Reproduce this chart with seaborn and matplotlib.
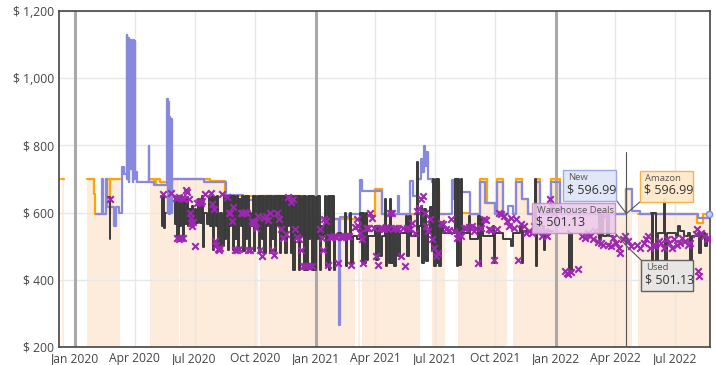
import matplotlib
matplotlib.use("Agg")
import matplotlib.pyplot as plt
import matplotlib.dates as mdates
from matplotlib.patches import Rectangle
from matplotlib.ticker import FuncFormatter
import numpy as np
import pandas as pd
import seaborn as sns

# ---- price history, None = not available ----
amazon = [
    ("2019-12-08", 700), ("2019-12-10", None), ("2019-12-13", 700), ("2019-12-15", None),
    ("2020-01-19", 700), ("2020-01-30", 655), ("2020-02-01", 597), ("2020-02-17", 700),
    ("2020-02-23", 597), ("2020-02-24", 700), ("2020-03-09", None),
    ("2020-04-25", 700), ("2020-04-30", 688), ("2020-05-03", 700), ("2020-05-09", 690),
    ("2020-05-28", 700), ("2020-06-07", None), ("2020-06-09", 700), ("2020-07-24", 693),
    ("2020-08-16", 650), ("2020-10-06", None), ("2020-10-08", 650), ("2020-12-12", 582),
    ("2021-03-02", None), ("2021-03-06", 582), ("2021-03-09", None), ("2021-03-12", 590),
    ("2021-04-01", 670), ("2021-04-11", 595), ("2021-06-08", None), ("2021-06-26", 690),
    ("2021-07-08", 597), ("2021-07-16", None), ("2021-08-05", 600), ("2021-08-23", 597),
    ("2021-09-08", 700), ("2021-09-18", 630), ("2021-09-30", 597), ("2021-10-03", 700),
    ("2021-10-12", 597), ("2021-10-18", None), ("2021-10-27", 597), ("2021-11-02", 700),
    ("2021-11-11", 640), ("2021-11-20", 597), ("2021-12-01", 700), ("2021-12-07", 597),
    ("2021-12-25", 700), ("2022-01-07", 597), ("2022-04-18", 670), ("2022-04-27", None),
    ("2022-05-05", 597), ("2022-08-03", 570), ("2022-08-12", 597), ("2022-08-23", 597),
]

new = [
    ("2020-02-02", 597), ("2020-02-11", 700), ("2020-02-13", 597), ("2020-02-17", 700),
    ("2020-02-19", 618), ("2020-03-01", 560), ("2020-03-03", 618), ("2020-03-08", 600),
    ("2020-03-12", 735), ("2020-03-15", 715),
    ("2020-03-20", 1130), ("2020-03-21", 700), ("2020-03-22", 1120), ("2020-03-23", 690),
    ("2020-03-24", 1110), ("2020-03-25", 760), ("2020-03-26", 1115), ("2020-03-27", 730),
    ("2020-03-28", 1100), ("2020-03-29", 690), ("2020-03-30", 1115), ("2020-03-31", 700),
    ("2020-04-01", 1110), ("2020-04-02", 720), ("2020-04-05", 690), ("2020-04-22", 797),
    ("2020-04-23", 690), ("2020-05-01", 682),
    ("2020-05-20", 937), ("2020-05-21", 600), ("2020-05-22", 930), ("2020-05-23", 595),
    ("2020-05-24", 885), ("2020-05-25", 600), ("2020-05-26", 880), ("2020-05-27", 598),
    ("2020-05-28", 700), ("2020-07-16", 692), ("2020-08-18", 652), ("2020-09-12", 638),
    ("2020-10-08", 598), ("2020-10-12", 650), ("2020-11-10", 625), ("2020-11-16", 650),
    ("2020-11-28", 600), ("2020-12-08", 582), ("2021-02-06", 265), ("2021-02-07", 587),
    ("2021-02-20", 597), ("2021-03-10", 698), ("2021-03-13", 663), ("2021-04-11", 595),
    ("2021-05-06", 648), ("2021-05-08", 597), ("2021-05-24", 693), ("2021-05-29", 650),
    ("2021-06-04", 700), ("2021-06-10", 760), ("2021-06-12", 720), ("2021-06-14", 797),
    ("2021-06-16", 740), ("2021-06-18", 780), ("2021-06-20", 700), ("2021-06-26", 690),
    ("2021-07-01", 660), ("2021-07-08", 597), ("2021-07-27", 698), ("2021-07-29", 640),
    ("2021-08-01", 700), ("2021-08-05", 660), ("2021-08-23", 597), ("2021-09-08", 690),
    ("2021-09-15", 630), ("2021-09-30", 597), ("2021-10-03", 690), ("2021-10-12", 597),
    ("2021-10-20", 620), ("2021-10-28", 597), ("2021-11-02", 690), ("2021-11-11", 640),
    ("2021-11-20", 597), ("2021-12-01", 690), ("2021-12-07", 597), ("2021-12-25", 690),
    ("2022-01-07", 597), ("2022-04-18", 670), ("2022-04-27", 605), ("2022-05-08", 597),
    ("2022-08-05", 585), ("2022-08-22", 597),
]

used = [
    ("2020-02-22", 645), ("2020-02-23", 520), ("2020-02-24", None),
    ("2020-04-04", 520), ("2020-04-05", None),
    ("2020-05-11", 650), ("2020-05-12", 560), ("2020-05-14", 645), ("2020-05-15", 555),
    ("2020-05-17", 600), ("2020-05-18", None),
    ("2020-05-30", 645), ("2020-06-01", 565), ("2020-06-03", 645), ("2020-06-05", 520),
    ("2020-06-07", 645), ("2020-06-09", 560), ("2020-06-11", 645), ("2020-06-13", 522),
    ("2020-06-15", 640), ("2020-06-17", 565), ("2020-06-19", 645), ("2020-06-21", 560),
    ("2020-06-23", 610), ("2020-06-25", 560), ("2020-06-27", 620), ("2020-06-29", 568),
    ("2020-07-01", 610), ("2020-07-03", 570), ("2020-07-06", 640), ("2020-07-09", 570),
    ("2020-07-12", 650), ("2020-07-14", 498), ("2020-07-16", 600), ("2020-07-20", 565),
    ("2020-07-23", 645), ("2020-07-25", 560), ("2020-07-27", 650), ("2020-07-29", 490),
    ("2020-07-31", 645), ("2020-08-02", 560), ("2020-08-04", 650), ("2020-08-06", 490),
    ("2020-08-08", 600), ("2020-08-11", 500), ("2020-08-14", 650), ("2020-08-16", 520),
    ("2020-08-18", 650), ("2020-08-20", 490), ("2020-08-22", 650), ("2020-08-24", 560),
    ("2020-08-26", 650), ("2020-08-28", 490), ("2020-08-30", 650), ("2020-09-01", 520),
    ("2020-09-03", 650), ("2020-09-05", 490), ("2020-09-07", 640), ("2020-09-09", 560),
    ("2020-09-11", 650), ("2020-09-13", 485), ("2020-09-15", 650), ("2020-09-17", 520),
    ("2020-09-19", 650), ("2020-09-21", 490), ("2020-09-23", 600), ("2020-09-25", 560),
    ("2020-09-27", 650), ("2020-09-29", 485), ("2020-10-01", 650), ("2020-10-03", 560),
    ("2020-10-05", 650), ("2020-10-07", 480), ("2020-10-09", 650), ("2020-10-11", 520),
    ("2020-10-13", 650), ("2020-10-15", 480), ("2020-10-17", 650), ("2020-10-19", 560),
    ("2020-10-21", 650), ("2020-10-23", 480), ("2020-10-25", 650), ("2020-10-27", 520),
    ("2020-10-29", 650), ("2020-10-31", 485), ("2020-11-02", 650), ("2020-11-04", 560),
    ("2020-11-06", 650), ("2020-11-08", 480), ("2020-11-10", 650), ("2020-11-12", 530),
    ("2020-11-14", 650), ("2020-11-16", 480), ("2020-11-18", 650), ("2020-11-20", 560),
    ("2020-11-22", 650), ("2020-11-24", 480), ("2020-11-26", 650), ("2020-11-28", 430),
    ("2020-11-30", 650), ("2020-12-02", 520), ("2020-12-04", 650), ("2020-12-06", 430),
    ("2020-12-08", 650), ("2020-12-10", 530), ("2020-12-12", 650), ("2020-12-14", 430),
    ("2020-12-16", 650), ("2020-12-18", 430), ("2020-12-20", 650), ("2020-12-22", 520),
    ("2020-12-24", 650), ("2020-12-26", 430), ("2020-12-28", 650), ("2020-12-30", 430),
    ("2021-01-01", 645), ("2021-01-03", 520), ("2021-01-05", 650), ("2021-01-07", 430),
    ("2021-01-09", 560), ("2021-01-12", 530), ("2021-01-15", 650), ("2021-01-17", 440),
    ("2021-01-19", 650), ("2021-01-21", 430), ("2021-01-23", 650), ("2021-01-25", 530),
    ("2021-01-27", 650), ("2021-01-29", 430), ("2021-01-31", 530), ("2021-02-04", 540),
    ("2021-02-08", 530), ("2021-02-14", 600), ("2021-02-16", 440), ("2021-02-18", 530),
    ("2021-02-22", 600), ("2021-02-24", 450), ("2021-02-26", 530), ("2021-03-04", 520),
    ("2021-03-10", 600), ("2021-03-12", 450), ("2021-03-14", 600), ("2021-03-16", 450),
    ("2021-03-18", 600), ("2021-03-20", 460), ("2021-03-22", 530), ("2021-04-01", 560),
    ("2021-04-03", 460), ("2021-04-06", 560), ("2021-04-08", 470), ("2021-04-11", 530),
    ("2021-04-16", 640), ("2021-04-18", 440), ("2021-04-20", 555), ("2021-04-22", 450),
    ("2021-04-24", 640), ("2021-04-26", 450), ("2021-04-28", 555), ("2021-04-30", 440),
    ("2021-05-03", 555), ("2021-05-06", 470), ("2021-05-09", 540), ("2021-05-18", 590),
    ("2021-05-20", 470), ("2021-05-23", 590), ("2021-05-26", 530), ("2021-06-04", 752),
    ("2021-06-05", 470), ("2021-06-07", 560), ("2021-06-10", 620), ("2021-06-12", 450),
    ("2021-06-15", 610), ("2021-06-17", 455), ("2021-06-20", 540), ("2021-06-24", 617),
    ("2021-06-26", 490), ("2021-06-28", 700), ("2021-06-30", 440), ("2021-07-02", 700),
    ("2021-07-04", 450), ("2021-07-06", 700), ("2021-07-08", 440), ("2021-07-10", 560),
    ("2021-07-14", 540), ("2021-08-01", 700), ("2021-08-03", 440), ("2021-08-05", 700),
    ("2021-08-07", 445), ("2021-08-09", 700), ("2021-08-11", 540), ("2021-08-22", 590),
    ("2021-08-24", 520), ("2021-09-05", 590), ("2021-09-07", 440), ("2021-09-09", 580),
    ("2021-09-12", 530), ("2021-09-27", 560), ("2021-09-29", 450), ("2021-10-01", 540),
    ("2021-10-12", 520), ("2021-10-24", 500), ("2021-10-28", 540), ("2021-11-08", 560),
    ("2021-11-10", 450), ("2021-11-12", 545), ("2021-11-24", 540), ("2021-11-30", 700),
    ("2021-12-01", 440), ("2021-12-03", 560), ("2021-12-12", 560), ("2021-12-14", 490),
    ("2021-12-16", 545), ("2021-12-28", None),
    ("2022-01-19", 545), ("2022-01-21", 430), ("2022-01-23", 540), ("2022-01-25", 430),
    ("2022-01-27", None),
    ("2022-03-06", 600), ("2022-03-08", 520), ("2022-03-10", 600), ("2022-03-13", 530),
    ("2022-03-20", 600), ("2022-03-22", 530), ("2022-03-28", None),
    ("2022-05-25", 600), ("2022-05-27", 450), ("2022-05-29", 600), ("2022-06-02", 460),
    ("2022-06-05", 540), ("2022-06-14", 640), ("2022-06-16", 460), ("2022-06-18", 540),
    ("2022-07-03", 530), ("2022-07-05", 560), ("2022-07-09", 545), ("2022-07-14", 530),
    ("2022-07-21", 540), ("2022-07-24", 460), ("2022-07-26", 530), ("2022-08-05", 540),
    ("2022-08-07", 480), ("2022-08-09", 530), ("2022-08-14", 540), ("2022-08-16", 500),
    ("2022-08-18", 525), ("2022-08-23", 525),
]

warehouse = [
    ("2020-02-23", 640), ("2020-05-14", 655), ("2020-05-26", 657),
    ("2020-06-02", 642), ("2020-06-04", 525), ("2020-06-05", 642), ("2020-06-07", 522),
    ("2020-06-08", 645), ("2020-06-10", 525), ("2020-06-12", 642), ("2020-06-14", 524),
    ("2020-06-15", 640), ("2020-06-18", 668), ("2020-06-19", 662), ("2020-06-22", 640),
    ("2020-06-24", 600), ("2020-06-25", 585), ("2020-06-26", 570), ("2020-06-27", 560),
    ("2020-06-29", 572), ("2020-07-02", 500), ("2020-07-04", 628), ("2020-07-07", 632),
    ("2020-07-10", 630), ("2020-07-13", 635), ("2020-07-17", 655), ("2020-07-26", 658),
    ("2020-07-28", 625), ("2020-07-30", 610), ("2020-08-01", 515), ("2020-08-03", 505),
    ("2020-08-05", 492), ("2020-08-07", 488), ("2020-08-09", 495), ("2020-08-11", 655),
    ("2020-08-19", 645), ("2020-08-22", 600), ("2020-08-24", 598), ("2020-08-27", 575),
    ("2020-08-29", 618), ("2020-08-31", 490), ("2020-09-03", 488), ("2020-09-06", 492),
    ("2020-09-09", 600), ("2020-09-12", 600), ("2020-09-15", 602), ("2020-09-18", 598),
    ("2020-09-20", 490), ("2020-09-23", 488), ("2020-09-26", 575), ("2020-09-28", 570),
    ("2020-10-01", 573), ("2020-10-03", 555), ("2020-10-05", 590), ("2020-10-08", 490),
    ("2020-10-11", 470), ("2020-10-14", 585), ("2020-10-17", 590), ("2020-10-20", 578),
    ("2020-10-24", 600), ("2020-10-27", 490), ("2020-10-30", 475), ("2020-11-03", 600),
    ("2020-11-06", 580), ("2020-11-10", 550), ("2020-11-13", 525), ("2020-11-17", 535),
    ("2020-11-20", 645), ("2020-11-24", 632), ("2020-11-27", 640), ("2020-11-30", 550),
    ("2020-12-03", 528), ("2020-12-06", 520), ("2020-12-10", 490), ("2020-12-13", 440),
    ("2020-12-16", 440), ("2020-12-19", 440), ("2020-12-22", 442), ("2020-12-26", 440),
    ("2021-01-08", 550), ("2021-01-10", 525), ("2021-01-12", 490), ("2021-01-14", 580),
    ("2021-01-17", 575), ("2021-01-20", 445), ("2021-01-23", 528), ("2021-01-26", 528),
    ("2021-01-29", 530), ("2021-02-01", 528), ("2021-02-04", 450), ("2021-02-08", 527),
    ("2021-02-11", 528), ("2021-02-14", 530), ("2021-02-17", 529), ("2021-02-20", 530),
    ("2021-02-24", 445), ("2021-03-01", 558), ("2021-03-04", 580), ("2021-03-06", 560),
    ("2021-03-09", 540), ("2021-03-12", 520), ("2021-03-14", 450), ("2021-03-18", 553),
    ("2021-03-21", 555), ("2021-03-24", 600), ("2021-03-27", 585), ("2021-03-30", 553),
    ("2021-04-02", 470), ("2021-04-05", 445), ("2021-04-08", 555), ("2021-04-12", 553),
    ("2021-04-15", 550), ("2021-04-18", 556), ("2021-04-21", 552), ("2021-04-24", 600),
    ("2021-04-27", 600), ("2021-04-30", 553), ("2021-05-03", 555), ("2021-05-06", 550),
    ("2021-05-10", 470), ("2021-05-13", 553), ("2021-05-17", 440), ("2021-05-20", 555),
    ("2021-05-24", 552), ("2021-05-28", 570), ("2021-06-01", 540), ("2021-06-04", 605),
    ("2021-06-07", 615), ("2021-06-10", 640), ("2021-06-13", 650), ("2021-06-16", 600),
    ("2021-06-18", 560), ("2021-06-21", 545), ("2021-06-24", 580), ("2021-06-27", 520),
    ("2021-06-30", 495), ("2021-07-03", 470), ("2021-07-06", 480), ("2021-07-10", 570),
    ("2021-07-14", 565), ("2021-07-18", 550), ("2021-07-22", 548), ("2021-07-26", 580),
    ("2021-07-30", 545), ("2021-08-03", 525), ("2021-08-06", 540), ("2021-08-10", 530),
    ("2021-08-14", 555), ("2021-08-18", 553), ("2021-08-22", 558), ("2021-08-26", 560),
    ("2021-08-30", 545), ("2021-09-02", 555), ("2021-09-05", 450), ("2021-09-09", 555),
    ("2021-09-13", 580), ("2021-09-17", 578), ("2021-09-21", 550), ("2021-09-25", 548),
    ("2021-09-29", 460), ("2021-10-03", 550), ("2021-10-07", 600), ("2021-10-10", 595),
    ("2021-10-14", 590), ("2021-10-18", 575), ("2021-10-21", 560), ("2021-10-25", 585),
    ("2021-10-29", 555), ("2021-11-02", 580), ("2021-11-05", 460), ("2021-11-09", 565),
    ("2021-11-13", 560), ("2021-11-17", 540), ("2021-11-21", 545), ("2021-11-25", 540),
    ("2021-11-29", 560), ("2021-12-03", 545), ("2021-12-07", 548), ("2021-12-11", 530),
    ("2021-12-15", 545), ("2021-12-19", 530), ("2021-12-23", 640), ("2021-12-26", 620),
    ("2021-12-29", 600),
    ("2022-01-14", 425), ("2022-01-17", 420), ("2022-01-20", 418), ("2022-01-24", 422),
    ("2022-02-04", 432), ("2022-02-10", 530), ("2022-02-14", 525), ("2022-02-18", 540),
    ("2022-02-22", 530), ("2022-02-26", 520), ("2022-03-02", 545), ("2022-03-06", 512),
    ("2022-03-10", 510), ("2022-03-14", 505), ("2022-03-17", 590), ("2022-03-21", 505),
    ("2022-03-25", 500), ("2022-03-29", 525), ("2022-04-02", 510), ("2022-04-06", 495),
    ("2022-04-09", 480), ("2022-04-13", 520), ("2022-04-16", 530), ("2022-04-20", 515),
    ("2022-04-25", 500), ("2022-05-04", 505), ("2022-05-08", 495), ("2022-05-14", 510),
    ("2022-05-18", 520), ("2022-05-21", 530), ("2022-05-24", 495), ("2022-05-28", 505),
    ("2022-06-01", 500), ("2022-06-06", 515), ("2022-06-10", 510), ("2022-06-14", 495),
    ("2022-06-18", 520), ("2022-06-22", 510), ("2022-06-26", 495), ("2022-06-30", 520),
    ("2022-07-04", 505), ("2022-07-08", 510), ("2022-07-12", 525), ("2022-07-16", 515),
    ("2022-07-20", 505), ("2022-07-24", 510), ("2022-08-01", 535), ("2022-08-03", 550),
    ("2022-08-05", 425), ("2022-08-07", 410), ("2022-08-09", 540), ("2022-08-14", 530),
    ("2022-08-18", 522), ("2022-08-21", 525),
]

# hover tooltip shown in the screenshot
hover_date = "2022-04-18"
hover_new, hover_amazon = 596.99, 596.99
hover_used, hover_warehouse = 501.13, 501.13
last_new = ("2022-08-22", 596.99)

year_marks = ["2020-01-01", "2021-01-01", "2022-01-01"]
x_range = ("2019-12-08", "2022-08-23")
y_range = (200, 1200)

C_AMAZON = "#ffa500"
C_FILL = "#fdebdb"
C_NEW = "#8888dd"
C_USED = "#3a3a3a"
C_WD = "#9c27b0"

W, H = 716, 365


def to_frame(rows):
    df = pd.DataFrame(rows, columns=["date", "price"])
    df["date"] = pd.to_datetime(df["date"])
    df["price"] = pd.to_numeric(df["price"], errors="coerce").astype(float)
    return df


sns.set_style("white")
plt.rcParams["font.family"] = ["Open Sans", "DejaVu Sans"]

fig = plt.figure(figsize=(W / 100, H / 100), dpi=100)
ax = fig.add_axes([59 / W, 18 / H, 651 / W, 336 / H])

amz_df = to_frame(amazon)
new_df = to_frame(new)
used_df = to_frame(used)
wd_df = to_frame(warehouse)

# amazon area: step polygon under the amazon price, broken where out of stock
xn = mdates.date2num(amz_df["date"])
yn = amz_df["price"].to_numpy()
xs = np.repeat(xn, 2)[1:]
ys = np.repeat(yn, 2)[:-1]
ax.fill_between(xs, ys, y_range[0], color=C_FILL, lw=0, zorder=0.3)

for d in year_marks:
    ax.axvline(pd.Timestamp(d), color="#a9a9a9", lw=2.2, zorder=0.7)

ax.plot(amz_df["date"], amz_df["price"], drawstyle="steps-post",
        color=C_AMAZON, lw=1.6, zorder=2)
sns.lineplot(data=new_df, x="date", y="price", drawstyle="steps-post",
             estimator=None, sort=False, color=C_NEW, lw=1.6, ax=ax, zorder=2.2)
ax.plot(used_df["date"], used_df["price"], drawstyle="steps-post",
        color=C_USED, lw=1.4, zorder=2.5)
sns.scatterplot(data=wd_df, x="date", y="price", marker="x", s=22,
                color=C_WD, linewidth=1.5, ax=ax, zorder=3)
ax.plot(pd.Timestamp(last_new[0]), last_new[1], "o", ms=4.5,
        mfc="#c5cbf3", mec=C_NEW, mew=1, zorder=3.5, clip_on=False)

# hover cursor
hx = pd.Timestamp(hover_date)
ax.plot([hx, hx], [y_range[0], 780], color="#555555", lw=0.8, zorder=3.2)

ax.set_xlim(pd.Timestamp(x_range[0]), pd.Timestamp(x_range[1]))
ax.set_ylim(*y_range)
ax.set_yticks(np.arange(200, 1201, 200))
ax.yaxis.set_major_formatter(FuncFormatter(lambda v, p: f"$ {v:,.0f}"))
ax.xaxis.set_major_locator(mdates.MonthLocator(bymonth=[1, 4, 7, 10]))
ax.xaxis.set_major_formatter(mdates.DateFormatter("%b %Y"))
ax.set_xlabel("")
ax.set_ylabel("")
ax.grid(True, color="#e8e8e8", lw=1)
ax.tick_params(length=0, labelsize=8.7, labelcolor="#444444", pad=3.5)
for s in ax.spines.values():
    s.set_color("#444444")
    s.set_linewidth(1.2)


def tooltip(box, label, value, face, edge, alpha):
    l, t, r, b = box
    fig.patches.append(Rectangle((l / W, 1 - b / H), (r - l) / W, (b - t) / H,
                                 transform=fig.transFigure, facecolor=face,
                                 edgecolor=edge, lw=1, alpha=alpha, zorder=5))
    fig.text((l + 5) / W, 1 - (t + 3) / H, label, ha="left", va="top",
             fontsize=6.8, color="#555555", zorder=6)
    fig.text((l + 4) / W, 1 - (t + 13) / H, value, ha="left", va="top",
             fontsize=9, color="#333333", zorder=6)


def connector(price, px, py):
    ax.annotate("", xy=(hx, price), xytext=(px, H - py),
                textcoords="figure pixels", zorder=4,
                arrowprops=dict(arrowstyle="-", color="#555555", lw=0.8,
                                shrinkA=0, shrinkB=0))


connector(hover_new, 616, 200)
connector(hover_amazon, 641, 201)
connector(hover_warehouse, 615, 233)
connector(hover_used, 641, 260)

tooltip((563, 170, 616, 201), "New", f"$ {hover_new:.2f}", "#e1e6f8", "#9aa3e2", 0.95)
tooltip((640, 171, 693, 202), "Amazon", f"$ {hover_amazon:.2f}", "#ffe9cc", "#f5b040", 0.95)
tooltip((532, 203, 615, 233), "Warehouse Deals", f"$ {hover_warehouse:.2f}", "#eccaec", "#c48ac8", 0.88)
tooltip((641, 260, 693, 291), "Used", f"$ {hover_used:.2f}", "#e6e6e6", "#555555", 0.92)

fig.savefig("out.png", dpi=100)
